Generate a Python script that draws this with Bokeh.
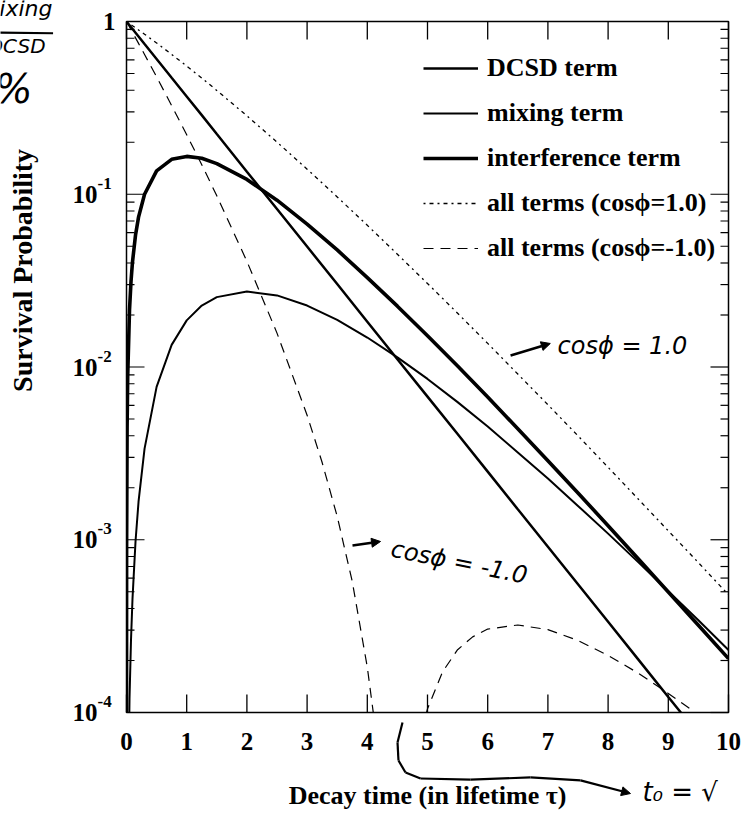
from bokeh.plotting import figure
from bokeh.models import Label, Legend, LegendItem, Arrow, NormalHead, Range1d
from bokeh.embed import file_html
from bokeh.resources import INLINE

# ---- survival probability of the wrong-sign decay, time in lifetimes ----
t_decay = [0.0, 0.1, 0.2, 0.3, 0.5, 0.75, 1.0, 1.25, 1.5,
           2.0, 2.5, 3.0, 3.5, 4.0, 4.5, 5.0, 5.5, 6.0, 6.5, 7.0, 7.5, 8.0, 8.5, 9.0, 9.5, 10.0]
dcsd = [1.0, 0.905, 0.819, 0.741, 0.607, 0.472, 0.368, 0.287, 0.223,
        0.135, 0.0821, 0.0498, 0.0302, 0.0183, 0.0111, 0.00674, 0.00409, 0.00248, 0.00150,
        0.000912, 0.000553, 0.000335, 0.000203, 0.000123, 0.0000749, 0.0000454]
all_plus = [1.0, 0.946, 0.894, 0.844, 0.751, 0.645, 0.552, 0.471, 0.399,
            0.2845, 0.2004, 0.1397, 0.0965, 0.0661, 0.04496, 0.03043, 0.02048, 0.0137, 0.0091,
            0.00605, 0.003994, 0.002626, 0.001722, 0.001126, 0.000737, 0.00048]

t_rise = [0.0002, 0.002, 0.01, 0.02, 0.05, 0.075, 0.1, 0.15, 0.2, 0.3, 0.5, 0.75, 1.0, 1.25, 1.5,
          2.0, 2.5, 3.0, 3.5, 4.0, 4.5, 5.0, 5.5, 6.0, 6.5, 7.0, 7.5, 8.0, 8.5, 9.0, 9.5, 10.0]
interference = [0.00009, 0.000898, 0.00446, 0.00882, 0.0214, 0.0313, 0.0407, 0.0581, 0.0737,
                0.1000, 0.1365, 0.1593, 0.1656, 0.1615, 0.1505,
                0.1218, 0.0924, 0.0672, 0.0476, 0.0329, 0.0225, 0.01517, 0.01012, 0.00670,
                0.00439, 0.00287, 0.001866, 0.001206, 0.000776, 0.000498, 0.000320, 0.000205]
mixing = [2.0e-9, 2.0e-7, 5.0e-6, 2.0e-5, 1.20e-4, 2.64e-4, 4.58e-4, 9.8e-4, 1.66e-3,
          3.37e-3, 7.67e-3, 0.01343, 0.01862, 0.02269, 0.02538,
          0.02732, 0.02597, 0.02268, 0.01872, 0.01481, 0.01137, 0.00853, 0.00626, 0.00452,
          0.00320, 0.00226, 0.00157, 0.001085, 0.000742, 0.000504, 0.000342, 0.00023]

# destructive case (cos phi = -1) dips through zero between the two branches
t_minus_a = [0.0, 0.1, 0.2, 0.3, 0.5, 0.75, 1.0, 1.25, 1.5, 2.0, 2.5, 3.0, 3.25, 3.5, 3.75, 4.0, 4.1, 4.2]
all_minus_a = [1.0, 0.865, 0.747, 0.644, 0.478, 0.326, 0.221, 0.1483, 0.0979, 0.0409, 0.01571,
               0.00526, 0.0028, 0.001364, 0.000574, 0.000183, 0.0000995, 0.000045]
t_minus_b = [4.9, 5.0, 5.25, 5.5, 5.75, 6.0, 6.5, 7.0, 7.5, 8.0, 8.5, 9.0, 9.5, 10.0]
all_minus_b = [7.8e-5, 1.05e-4, 1.72e-4, 2.31e-4, 2.74e-4, 3.04e-4, 3.21e-4, 3.02e-4, 2.61e-4,
               2.14e-4, 1.69e-4, 1.29e-4, 9.7e-5, 7.1e-5]

x_ticks = [0, 1, 2, 3, 4, 5, 6, 7, 8, 9, 10]
x_tick_labels = [str(v) for v in x_ticks]
y_exponents = [0, -1, -2, -3, -4]
legend_labels = ["DCSD term", "mixing term", "interference term",
                 "all terms (cos\u03d5=1.0)", "all terms (cos\u03d5=-1.0)"]

# ---- page geometry: the plot box sits inside a canvas that also holds the margin text ----
W, H = 743, 814
BOX_L, BOX_R, BOX_T, BOX_B = 126, 728, 21, 712
T_MIN, T_MAX = 0.0, 10.0
LOG_MIN, LOG_MAX = -4.0, 0.0
px_per_t = (BOX_R - BOX_L) / (T_MAX - T_MIN)
px_per_dec = (BOX_B - BOX_T) / (LOG_MAX - LOG_MIN)
x_lo = T_MIN - BOX_L / px_per_t
x_hi = T_MAX + (W - BOX_R) / px_per_t
log_hi = LOG_MAX + BOX_T / px_per_dec
log_lo = LOG_MIN - (H - BOX_B) / px_per_dec
Y_BOT, Y_TOP = 10 ** LOG_MIN, 10 ** LOG_MAX

SERIF = "Liberation Serif"
HAND = "DejaVu Sans"

p = figure(width=W, height=H, y_axis_type="log",
           x_range=Range1d(x_lo, x_hi), y_range=Range1d(10 ** log_lo, 10 ** log_hi),
           output_backend="svg", toolbar_location=None,
           x_axis_location=None, y_axis_location=None,
           min_border=0, min_border_left=0, min_border_right=0,
           min_border_top=0, min_border_bottom=0)
p.grid.visible = False
p.outline_line_color = None
p.background_fill_color = "white"
p.border_fill_color = "white"

# ---- curves ----
r_dcsd = p.line(t_decay, dcsd, line_color="black", line_width=2.5)
r_mix = p.line(t_rise, mixing, line_color="black", line_width=2.0)
r_int = p.line(t_rise, interference, line_color="black", line_width=3.6)
r_plus = p.line(t_decay, all_plus, line_color="black", line_width=1.3, line_dash="2 4 4 4")
r_minus = p.line(t_minus_a, all_minus_a, line_color="black", line_width=1.2, line_dash="10 7")
p.line(t_minus_b, all_minus_b, line_color="black", line_width=1.2, line_dash="10 7")

# white margins hide anything running past the plot box
big_lo, big_hi = 10 ** log_lo, 10 ** log_hi
p.quad(left=[x_lo, T_MAX, x_lo, x_lo], right=[T_MIN, x_hi, x_hi, x_hi],
       bottom=[big_lo, big_lo, big_lo, Y_TOP], top=[big_hi, big_hi, Y_BOT, big_hi],
       fill_color="white", line_color=None)

# plot box
p.quad(left=[T_MIN], right=[T_MAX], bottom=[Y_BOT], top=[Y_TOP],
       fill_color=None, line_color="black", line_width=1.5)

# ---- inward ticks on all four sides ----
MAJOR, MINOR = 18, 8
maj_dec = MAJOR / px_per_dec
p.segment(x0=x_ticks, y0=[Y_BOT] * len(x_ticks), x1=x_ticks, y1=[Y_BOT * 10 ** maj_dec] * len(x_ticks),
          line_color="black", line_width=1.3)
p.segment(x0=x_ticks, y0=[Y_TOP] * len(x_ticks), x1=x_ticks, y1=[Y_TOP * 10 ** -maj_dec] * len(x_ticks),
          line_color="black", line_width=1.3)

decades = [10.0 ** e for e in y_exponents]
minors = [m * 10.0 ** e for e in y_exponents[1:] for m in range(2, 10)]
for ticks, length in ((decades, MAJOR), (minors, MINOR)):
    dt = length / px_per_t
    p.segment(x0=[T_MIN] * len(ticks), y0=ticks, x1=[T_MIN + dt] * len(ticks), y1=ticks,
              line_color="black", line_width=1.2)
    p.segment(x0=[T_MAX] * len(ticks), y0=ticks, x1=[T_MAX - dt] * len(ticks), y1=ticks,
              line_color="black", line_width=1.2)

bold = dict(text_font=SERIF, text_font_style="bold", text_color="black")

# ---- tick labels ----
for xv, lab in zip(x_ticks, x_tick_labels):
    p.add_layout(Label(x=xv, y=Y_BOT, text=lab, y_offset=-29, text_align="center",
                       text_baseline="middle", text_font_size="25px", **bold))

for e in y_exponents:
    if e == 0:
        p.add_layout(Label(x=T_MIN, y=1.0, text="1", x_offset=-11, text_align="right",
                           text_baseline="middle", text_font_size="25px", **bold))
    else:
        p.add_layout(Label(x=T_MIN, y=10.0 ** e, text="10", x_offset=-29, text_align="right",
                           text_baseline="middle", text_font_size="25px", **bold))
        p.add_layout(Label(x=T_MIN, y=10.0 ** e, text=str(e), x_offset=-29, y_offset=11,
                           text_align="left", text_baseline="middle", text_font_size="17px",
                           **bold))

# ---- axis titles ----
p.add_layout(Label(x=5, y=Y_BOT, y_offset=-83, text="Decay time (in lifetime \u03c4)",
                   text_align="center", text_baseline="middle", text_font_size="26px", **bold))
p.add_layout(Label(x=T_MIN, x_offset=-104, y=10 ** -1.441, text="Survival Probability", angle=1.5708,
                   text_align="center", text_baseline="middle", text_font_size="28px", **bold))

# ---- legend ----
legend = Legend(items=[LegendItem(label=lab, renderers=[r])
                       for lab, r in zip(legend_labels, [r_dcsd, r_mix, r_int, r_plus, r_minus])],
                location=(423, H - 263), glyph_width=55, glyph_height=20, label_height=20,
                label_standoff=9, spacing=15, padding=0, margin=0,
                background_fill_alpha=0, border_line_alpha=0, label_text_color="black",
                label_text_font=SERIF, label_text_font_style="bold", label_text_font_size="26px")
p.add_layout(legend)

# ---- pen notes ----
pen = dict(text_font=HAND, text_font_style="italic", text_color="black")
head = dict(size=9, fill_color="black", line_color="black")
p.add_layout(Arrow(x_start=6.38, y_start=0.01166, x_end=7.04, y_end=0.01368, line_width=2.5,
                   end=NormalHead(**head)))
p.add_layout(Label(x=7.16, y=0.0133, text="cos\u03d5 = 1.0", text_baseline="middle",
                   text_font_size="24px", **pen))
p.add_layout(Arrow(x_start=3.754, y_start=9.27e-4, x_end=4.22, y_end=9.77e-4, line_width=2.5,
                   end=NormalHead(**head)))
p.add_layout(Label(x=4.40, y=8.9e-4, text="cos\u03d5 = -1.0", text_baseline="middle", angle=-0.2,
                   text_font_size="24px", **pen))

# bracket sweeping under the late-time axis into the t0 note
bracket_t = [4.585, 4.502, 4.518, 4.635, 4.884, 5.714, 6.711, 7.542, 8.372]
bracket_dec = [-4.058, -4.174, -4.278, -4.347, -4.382, -4.388, -4.376, -4.393, -4.469]
for i in range(len(bracket_t) - 1):
    last = i == len(bracket_t) - 2
    p.add_layout(Arrow(x_start=bracket_t[i], y_start=10 ** bracket_dec[i],
                       x_end=bracket_t[i + 1], y_end=10 ** bracket_dec[i + 1], line_width=2.2,
                       end=NormalHead(**head) if last else None))
p.add_layout(Label(x=8.57, y=10 ** -4.463, text="t\u2080 = \u221a", text_baseline="middle",
                   text_font_size="26px", **pen))

# margin scribbles
p.add_layout(Label(x=-1.23, y=10 ** 0.075, text="mixing", text_align="right", text_baseline="middle",
                   text_font_size="22px", **pen))
p.add_layout(Arrow(x_start=-2.2, y_start=10 ** -0.064, x_end=-1.22, y_end=10 ** -0.068,
                   line_width=2.2, end=None))
p.add_layout(Label(x=-1.345, y=10 ** -0.139, text="DCSD", text_align="right", text_baseline="middle",
                   text_font_size="20px", **pen))
p.add_layout(Label(x=-1.56, y=10 ** -0.388, text="%", text_align="right", text_baseline="middle",
                   text_font_size="40px", **pen))

open("out.html", "w").write(file_html(p, INLINE))
